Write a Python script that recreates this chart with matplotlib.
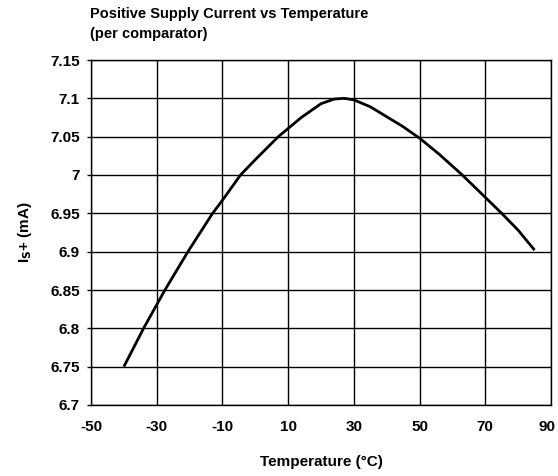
import matplotlib
matplotlib.use("Agg")
import matplotlib.pyplot as plt
import matplotlib.transforms as mtransforms

# data
temperature = [-40, -34, -27.5, -20.5, -13, -10, -4.5, 0, 7, 14, 20, 24, 27, 30, 35, 40, 45, 50, 56, 63, 69, 75, 80, 85]
supply_current = [6.75, 6.80, 6.85, 6.90, 6.95, 6.967, 7.00, 7.02, 7.05, 7.075, 7.093, 7.099, 7.10, 7.098, 7.089, 7.076, 7.063, 7.048, 7.027, 7.00, 6.975, 6.950, 6.928, 6.902]

x_ticks = [-50, -30, -10, 10, 30, 50, 70, 90]
y_ticks = [6.7, 6.75, 6.8, 6.85, 6.9, 6.95, 7, 7.05, 7.1, 7.15]
y_labels = ["6.7", "6.75", "6.8", "6.85", "6.9", "6.95", "7", "7.05", "7.1", "7.15"]

plt.rcParams['font.family'] = ['Liberation Sans', 'DejaVu Sans']
plt.rcParams['font.weight'] = 'bold'
plt.rcParams['mathtext.default'] = 'bf'

fig = plt.figure(figsize=(5.58, 4.76), dpi=100)
ax = fig.add_axes([91/558, 71/476, 460/558, 345/476])

ax.plot(temperature, supply_current, color='black', linewidth=2.0, solid_capstyle='butt')

ax.set_xlim(-50, 90)
ax.set_ylim(6.7, 7.15)
ax.set_xticks(x_ticks)
ax.set_xticklabels([str(t) for t in x_ticks])
ax.set_yticks(y_ticks)
ax.set_yticklabels(y_labels)
ax.grid(True, color='black', linewidth=1.0)
for s in ax.spines.values():
    s.set_linewidth(1.0)
ax.tick_params(axis='x', length=0, pad=11, labelsize=11)
ax.tick_params(axis='y', length=3, width=1.0, pad=5, labelsize=11)
for lbl in ax.get_xticklabels() + ax.get_yticklabels():
    lbl.set_fontweight('bold')
# keep the last x label inside the figure, as in the reference
last = ax.get_xticklabels()[-1]
last.set_transform(last.get_transform() + mtransforms.ScaledTranslation(-4/100, 0, fig.dpi_scale_trans))

ax.set_xlabel('Temperature (°C)', fontsize=11, fontweight='bold', labelpad=15)
ax.set_ylabel(r'I$_\mathbf{S}$+ (mA)', fontsize=11, fontweight='bold', labelpad=12)

fig.text(90/558, 1 - 14/476, 'Positive Supply Current vs Temperature', fontsize=10.5,
         fontweight='bold', va='center', ha='left')
fig.text(90/558, 1 - 34/476, '(per comparator)', fontsize=10.5,
         fontweight='bold', va='center', ha='left')

fig.savefig('out.png', dpi=100)
